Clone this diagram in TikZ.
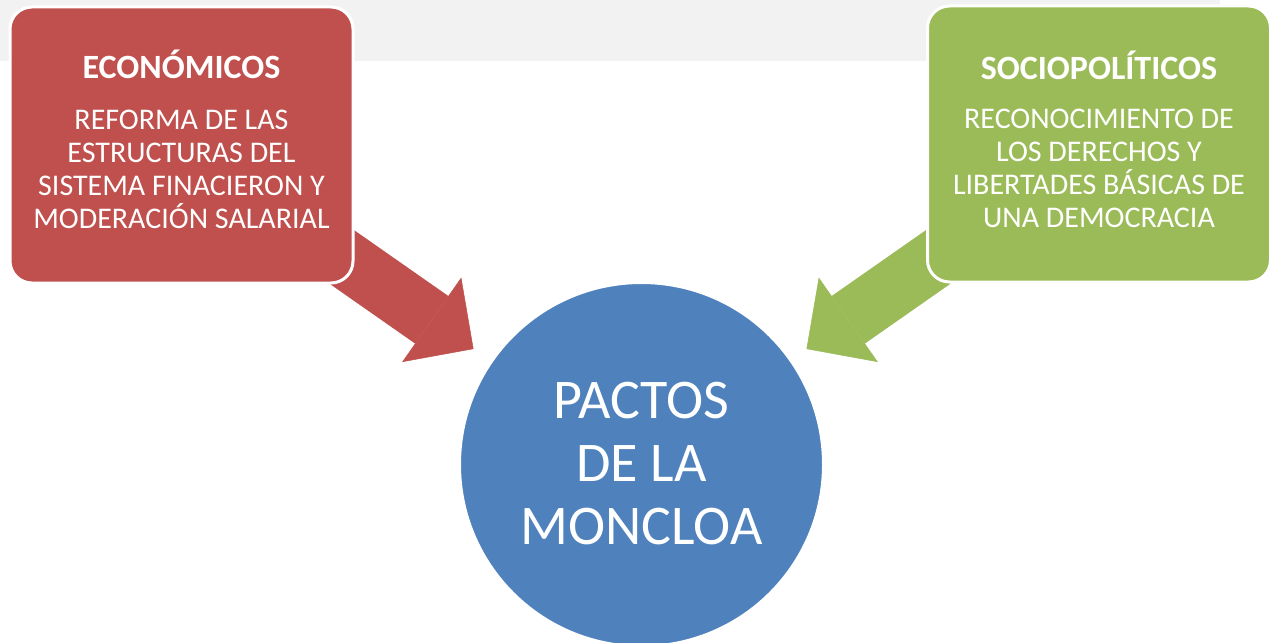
\documentclass[tikz,border=0pt]{standalone}
\usepackage{fontspec}
\setmainfont{Carlito}
\usetikzlibrary{arrows.meta}
\definecolor{redc}{HTML}{C0504D}
\definecolor{greenc}{HTML}{9BBB59}
\definecolor{bluec}{HTML}{4F81BD}
\definecolor{bandc}{HTML}{F2F2F2}
\tikzset{
  box/.style={rounded corners=22pt, draw=white, line width=3pt, minimum width=343pt, minimum height=276pt, inner sep=0pt},
  titletext/.style={anchor=base, text=white, inner sep=0pt, font=\bfseries\fontsize{34}{34}\selectfont},
  bodytext/.style={anchor=base, text=white, inner sep=0pt, align=center, font=\fontsize{30}{32.7}\selectfont},
  bigtext/.style={anchor=base, text=white, inner sep=0pt, align=center, font=\fontsize{56}{63}\selectfont},
  blockarrow/.style={line width=58pt, -{Triangle[length=51pt, width=103pt, line width=0.5pt]}}
}
\begin{document}
\begin{tikzpicture}[x=1pt, y=-1pt]
\useasboundingbox (0,0) rectangle (1273,642);
\fill[white] (0,0) rectangle (1273,642);
\fill[bandc] (0,0) rectangle (1220,61);
% arrows (behind the boxes)
\coordinate (rstart) at (309.6,234.4);
\coordinate (rtip) at (473.5,349);
\coordinate (gstart) at (970.4,234.4);
\coordinate (gtip) at (806.5,349);
\draw[blockarrow, redc] (rstart) -- (rtip);
\draw[blockarrow, greenc] (gstart) -- (gtip);
% boxes
\node[box, fill=redc] (eco) at (181.5,145) {};
\node[box, fill=greenc] (soc) at (1099,144) {};
% circle
\node[circle, fill=bluec, draw=white, line width=2pt, minimum size=363pt, inner sep=0pt] (pm) at (641.5,464.5) {};
% texts
\node[titletext] (ecot) at (181.5,78.5) {ECONÓMICOS};
\node[bodytext] (ecob) at (181.5,228) {REFORMA DE LAS\\ESTRUCTURAS DEL\\SISTEMA FINACIERON Y\\MODERACIÓN SALARIAL};
\node[titletext] (soct) at (1099,79) {SOCIOPOLÍTICOS};
\node[bodytext] (socb) at (1099,227) {RECONOCIMIENTO DE\\LOS DERECHOS Y\\LIBERTADES BÁSICAS DE\\UNA DEMOCRACIA};
\node[bigtext] (pmt) at (641.5,544) {PACTOS\\DE LA\\MONCLOA};
\end{tikzpicture}
\end{document}
